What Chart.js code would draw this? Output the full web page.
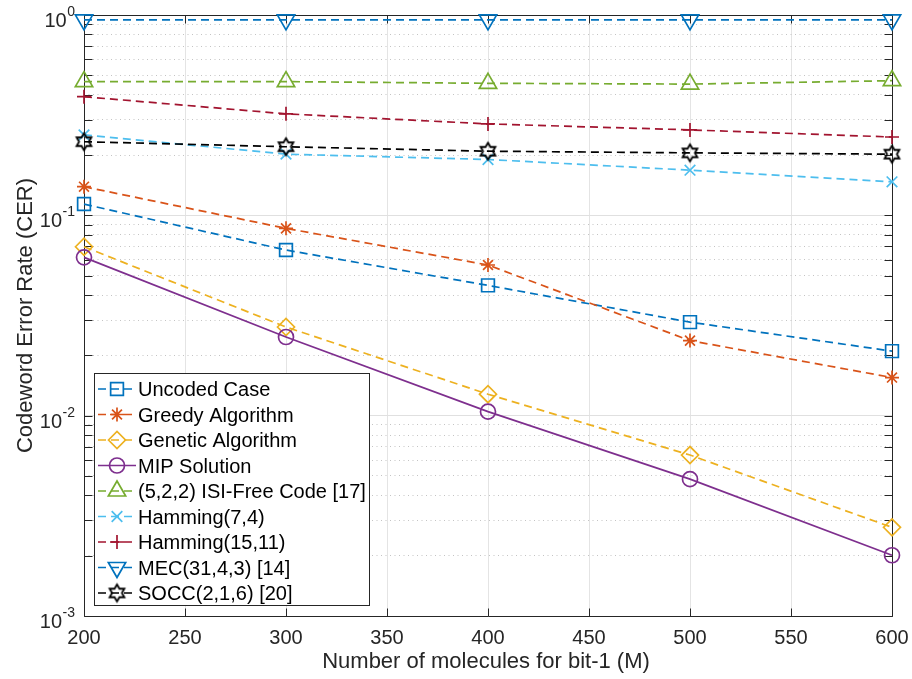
<!DOCTYPE html>
<html><head><meta charset="utf-8">
<script src="https://cdn.jsdelivr.net/npm/chart.js@4/dist/chart.umd.min.js"></script>
<style>html,body{margin:0;padding:0;background:#fff}#wrap{width:912px;height:679px;position:relative}</style>
</head><body><div id="wrap"><canvas id="c" width="912" height="679"></canvas></div>
<script>
// ---------------- data ----------------
const moleculesM = [200, 300, 400, 500, 600];
const uncodedCase = [0.1138, 0.0671, 0.0447, 0.0293, 0.0210];
const greedyAlgorithm = [0.139, 0.0861, 0.0565, 0.0237, 0.0155];
const geneticAlgorithm = [0.0697, 0.0277, 0.0128, 0.00636, 0.00277];
const mipSolution = [0.0617, 0.0247, 0.01047, 0.00482, 0.00201];
const isiFreeCode = [0.465, 0.465, 0.456, 0.452, 0.470];
const hamming74 = [0.252, 0.202, 0.190, 0.168, 0.147];
const hamming1511 = [0.391, 0.321, 0.286, 0.267, 0.246];
const mec3143 = [0.945, 0.945, 0.945, 0.945, 0.945];
const socc216 = [0.233, 0.220, 0.209, 0.205, 0.202];
const seriesNames = ['Uncoded Case', 'Greedy Algorithm', 'Genetic Algorithm', 'MIP Solution',
  '(5,2,2) ISI-Free Code [17]', 'Hamming(7,4)', 'Hamming(15,11)', 'MEC(31,4,3) [14]', 'SOCC(2,1,6) [20]'];
const xTickLabels = [200, 250, 300, 350, 400, 450, 500, 550, 600];
const yMajorExponents = [0, -1, -2, -3];
const xTitle = 'Number of molecules for bit-1 (M)';
const yTitle = 'Codeword Error Rate (CER)';

// ---------------- styles ----------------
const allSeries = [uncodedCase, greedyAlgorithm, geneticAlgorithm, mipSolution, isiFreeCode, hamming74, hamming1511, mec3143, socc216];
const seriesColors = ['#0072BD', '#D95319', '#EDB120', '#7E2F8E', '#77AC30', '#4DBEEE', '#A2142F', '#0072BD', '#000000'];
const DASH = [8, 5];
const seriesDash = [DASH, DASH, DASH, [], DASH, DASH, DASH, DASH, DASH];

function makeHexagram(R, lw, color) {
  const size = Math.ceil(2 * R + lw * 2 + 2);
  const c = document.createElement('canvas');
  c.width = c.height = size;
  const g = c.getContext('2d');
  const cx = size / 2, cy = size / 2, r = R / Math.sqrt(3);
  g.beginPath();
  for (let k = 0; k < 12; k++) {
    const ang = -Math.PI / 2 + k * Math.PI / 6;
    const rr = k % 2 === 0 ? R : r;
    const px = cx + rr * Math.cos(ang), py = cy + rr * Math.sin(ang);
    if (k) g.lineTo(px, py); else g.moveTo(px, py);
  }
  g.closePath();
  g.lineWidth = lw; g.strokeStyle = color; g.lineJoin = 'miter'; g.stroke();
  return c;
}
const hexagram = makeHexagram(8.5, 1.8, '#000');
const seriesPointStyle = ['rect', 'star', 'rectRot', 'circle', 'triangle', 'crossRot', 'cross', 'triangle', hexagram];
const seriesRadius = [9, 7, 8.5, 7.5, 10, 7.5, 7, 10, 8];
const seriesRotation = [0, 0, 0, 0, 0, 0, 0, 180, 0];

const datasets = allSeries.map((vals, i) => ({
  label: seriesNames[i],
  data: vals.map((v, j) => ({ x: moleculesM[j], y: v })),
  borderColor: seriesColors[i],
  backgroundColor: 'rgba(0,0,0,0)',
  borderWidth: 1.7,
  borderDash: seriesDash[i],
  pointStyle: seriesPointStyle[i],
  pointRadius: seriesRadius[i],
  pointRotation: seriesRotation[i],
  pointBorderWidth: 1.7,
  pointBorderColor: seriesColors[i],
  pointBackgroundColor: 'rgba(0,0,0,0)',
  pointHoverRadius: seriesRadius[i],
  tension: 0,
  fill: false,
  clip: false,
  order: allSeries.length - i
}));

const FONT = '"Liberation Sans", Arial, Helvetica, sans-serif';
const TXT = '#262626';
function isMajor(v) { const l = Math.log10(v); return Math.abs(l - Math.round(l)) < 1e-9; }

const yTickValues = [];
for (let e = -3; e <= 0; e++) for (let m = 1; m <= 9; m++) { const v = m * Math.pow(10, e); if (v <= 1.0000001) yTickValues.push(+v.toPrecision(6)); }

const boxPlugin = {
  id: 'matlabBox',
  beforeDatasetsDraw(chart) {
    const { ctx, chartArea: a, scales } = chart;
    ctx.save();
    ctx.strokeStyle = '#262626';
    ctx.lineWidth = 1;
    const L = Math.round(a.left) + 0.5, R = Math.round(a.right) + 0.5, T = Math.round(a.top) + 0.5, B = Math.round(a.bottom) + 0.5;
    ctx.beginPath();
    ctx.rect(L, T, R - L, B - T);
    // x ticks (inward, bottom and top)
    xTickLabels.forEach(v => {
      const x = Math.round(scales.x.getPixelForValue(v)) + 0.5;
      ctx.moveTo(x, B); ctx.lineTo(x, B - 8);
      ctx.moveTo(x, T); ctx.lineTo(x, T + 8);
    });
    yTickValues.forEach(v => {
      const y = Math.round(scales.y.getPixelForValue(v)) + 0.5;
      ctx.moveTo(L, y); ctx.lineTo(L + 8, y);
      ctx.moveTo(R, y); ctx.lineTo(R - 8, y);
    });
    ctx.stroke();
    ctx.restore();
  },
  afterDraw(chart) {
    const { ctx, chartArea: a, scales } = chart;
    ctx.save();
    ctx.fillStyle = TXT;
    // x tick labels
    ctx.font = '20px ' + FONT;
    ctx.textAlign = 'center';
    ctx.textBaseline = 'alphabetic';
    xTickLabels.forEach(v => {
      ctx.fillText(String(v), scales.x.getPixelForValue(v), 644);
    });
    // y tick labels 10^e
    const RIGHT = 75;
    yMajorExponents.forEach(e => {
      const y = scales.y.getPixelForValue(Math.pow(10, e));
      const sup = String(e);
      ctx.font = '14px ' + FONT;
      const sw = ctx.measureText(sup).width;
      ctx.textAlign = 'left';
      ctx.fillText(sup, RIGHT - sw, y + 1);
      ctx.font = '20px ' + FONT;
      ctx.textAlign = 'right';
      ctx.fillText('10', RIGHT - sw - 0.5, y + 12);
    });
    // axis titles
    ctx.font = '22px ' + FONT;
    ctx.textAlign = 'center';
    ctx.fillText(xTitle, (a.left + a.right) / 2 - 2, 668);
    ctx.save();
    ctx.translate(32, (a.top + a.bottom) / 2);
    ctx.rotate(-Math.PI / 2);
    ctx.fillText(yTitle, 0, 0);
    ctx.restore();

    // legend
    const bx = 94.5, by = 373.5, bw = 275, bh = 232;
    ctx.fillStyle = '#fff';
    ctx.fillRect(bx, by, bw, bh);
    ctx.strokeStyle = '#262626';
    ctx.lineWidth = 1;
    ctx.strokeRect(bx, by, bw, bh);
    const row0 = 389, step = 25.5;
    chart.data.datasets.forEach((ds, i) => {
      const y = row0 + i * step;
      ctx.save();
      ctx.strokeStyle = ds.borderColor;
      ctx.lineWidth = ds.borderWidth;
      ctx.setLineDash(ds.borderDash);
      ctx.beginPath();
      ctx.moveTo(98, y); ctx.lineTo(136, y);
      ctx.stroke();
      ctx.setLineDash([]);
      ctx.fillStyle = 'rgba(0,0,0,0)';
      ctx.lineWidth = ds.pointBorderWidth;
      Chart.helpers.drawPoint(ctx, { pointStyle: ds.pointStyle, radius: ds.pointRadius, rotation: ds.pointRotation, borderWidth: ds.pointBorderWidth }, 117, y);
      ctx.restore();
      ctx.fillStyle = '#000';
      ctx.font = '20px ' + FONT;
      ctx.textAlign = 'left';
      ctx.fillText(ds.label, 138, y + 7);
    });
    ctx.restore();
  }
};

new Chart(document.getElementById('c'), {
  type: 'line',
  data: { datasets },
  options: {
    responsive: false,
    devicePixelRatio: 1,
    animation: false,
    events: [],
    layout: { padding: { left: 0, right: 20, top: 15, bottom: 0 } },
    plugins: { legend: { display: false }, tooltip: { enabled: false }, title: { display: false } },
    scales: {
      x: {
        type: 'linear', min: 200, max: 600,
        afterBuildTicks(s) { s.ticks = xTickLabels.map(v => ({ value: v })); },
        ticks: { display: false },
        grid: { color: '#e4e4e4', lineWidth: 1, drawTicks: false },
        border: { display: false },
        afterFit(s) { s.height = 63; }
      },
      y: {
        type: 'logarithmic', min: 0.001, max: 1,
        afterBuildTicks(s) { s.ticks = yTickValues.map(v => ({ value: v })); },
        ticks: { display: false },
        grid: {
          color: c => (c.tick && !isMajor(c.tick.value)) ? '#c4c4c4' : '#e0e0e0',
          lineWidth: 1, drawTicks: false
        },
        border: { display: false, dash: c => (c.tick && !isMajor(c.tick.value)) ? [1, 3.5] : [] },
        afterFit(s) { s.width = 84; }
      }
    }
  },
  plugins: [boxPlugin]
});
</script>
</body></html>
